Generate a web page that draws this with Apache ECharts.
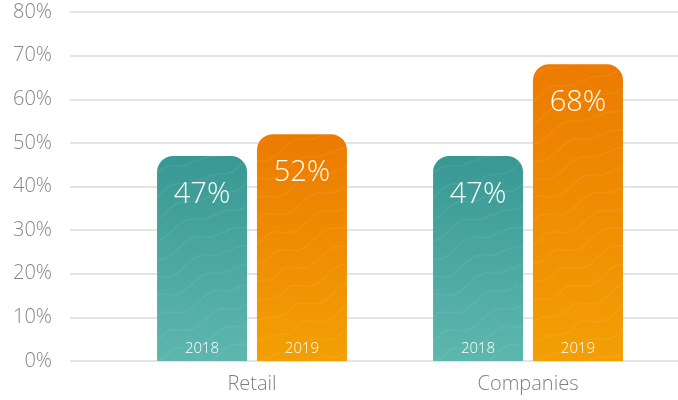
<!DOCTYPE html>
<html>
<head>
<meta charset="utf-8">
<script src="https://cdn.jsdelivr.net/npm/echarts@6/dist/echarts.min.js"></script>
<style>
  html, body { margin: 0; padding: 0; background: #ffffff; }
  #chart { width: 678px; height: 400px; }
</style>
</head>
<body>
<div id="chart"></div>
<script>
// Share of respondents by segment and year
const categories = ['Retail', 'Companies'];
const years = ['2018', '2019'];
const values2018 = [47, 47];
const values2019 = [52, 68];
const yMin = 0;
const yMax = 80;
const yStep = 10;

const FONT = '"Open Sans", "Noto Sans", sans-serif';

// Thin irregular strip used as a faint contour texture on the bars
const contour = {
  symbol: 'path://M0,14 C12,6 22,22 38,12 C50,4 58,20 72,16 C86,12 96,2 110,10 C118,14 124,12 130,11 L130,12 C124,13 118,15 110,11 C96,3 86,13 72,17 C58,21 50,5 38,13 C22,23 12,7 0,15 Z',
  symbolSize: 1,
  dashArrayX: [[130, 0]],
  dashArrayY: [19, 0],
  color: 'rgba(255,255,255,0.10)',
  rotation: -0.35
};

const tealFill = new echarts.graphic.LinearGradient(0, 0, 0, 1, [
  { offset: 0, color: '#389893' },
  { offset: 1, color: '#5db7af' }
]);
const orangeFill = new echarts.graphic.LinearGradient(0, 0, 0, 1, [
  { offset: 0, color: '#ec7b00' },
  { offset: 1, color: '#f39f04' }
]);

const plotTop = 12;
const plotBottom = 39;

function barSeries(name, data, fill, axis) {
  return {
    name: name,
    type: 'bar',
    xAxisIndex: axis,
    yAxisIndex: axis,
    data: data,
    barWidth: 90,
    barGap: '11%',
    itemStyle: { color: fill, borderRadius: [16, 16, 0, 0], decal: contour },
    label: {
      show: true,
      position: 'insideTop',
      distance: 24,
      formatter: '{c}%',
      color: '#ffffff',
      fontFamily: FONT,
      fontWeight: 300,
      fontSize: 29
    }
  };
}

function yearSeries(name, data) {
  return {
    name: name + ' label',
    type: 'bar',
    xAxisIndex: 2,
    yAxisIndex: 2,
    data: data,
    barWidth: 90,
    barGap: '11%',
    silent: true,
    itemStyle: { color: 'rgba(0,0,0,0)' },
    label: {
      show: true,
      position: 'insideBottom',
      distance: 5,
      formatter: name,
      color: '#ffffff',
      fontFamily: FONT,
      fontWeight: 300,
      fontSize: 15
    },
    z: 5
  };
}

const hiddenY = { type: 'value', min: yMin, max: yMax, interval: yStep, show: false };
const hiddenX = { type: 'category', data: categories, show: false };

const chart = echarts.init(document.getElementById('chart'), null, { renderer: 'canvas' });
chart.setOption({
  backgroundColor: '#ffffff',
  animation: false,
  grid: [
    { left: 70, right: 0, top: plotTop, bottom: plotBottom },
    { left: 114, right: 12, top: plotTop, bottom: plotBottom },
    { left: 114, right: 12, top: plotTop, bottom: plotBottom }
  ],
  xAxis: [
    { gridIndex: 0, type: 'category', data: categories, show: false },
    {
      gridIndex: 1,
      type: 'category',
      data: categories,
      axisLine: { show: false },
      axisTick: { show: false },
      axisLabel: {
        margin: 13,
        color: '#7f7f7f',
        fontFamily: FONT,
        fontWeight: 300,
        fontSize: 20
      }
    },
    Object.assign({ gridIndex: 2 }, hiddenX)
  ],
  yAxis: [
    {
      gridIndex: 0,
      type: 'value',
      min: yMin,
      max: yMax,
      interval: yStep,
      axisLine: { show: false },
      axisTick: { show: false },
      axisLabel: {
        formatter: '{value}%',
        margin: 18,
        color: '#858585',
        fontFamily: FONT,
        fontWeight: 300,
        fontSize: 20
      },
      splitLine: { lineStyle: { color: '#e4e4e4', width: 2 } }
    },
    Object.assign({ gridIndex: 1 }, hiddenY),
    Object.assign({ gridIndex: 2 }, hiddenY)
  ],
  series: [
    barSeries(years[0], values2018, tealFill, 1),
    barSeries(years[1], values2019, orangeFill, 1),
    yearSeries(years[0], values2018),
    yearSeries(years[1], values2019)
  ]
});
</script>
</body>
</html>
